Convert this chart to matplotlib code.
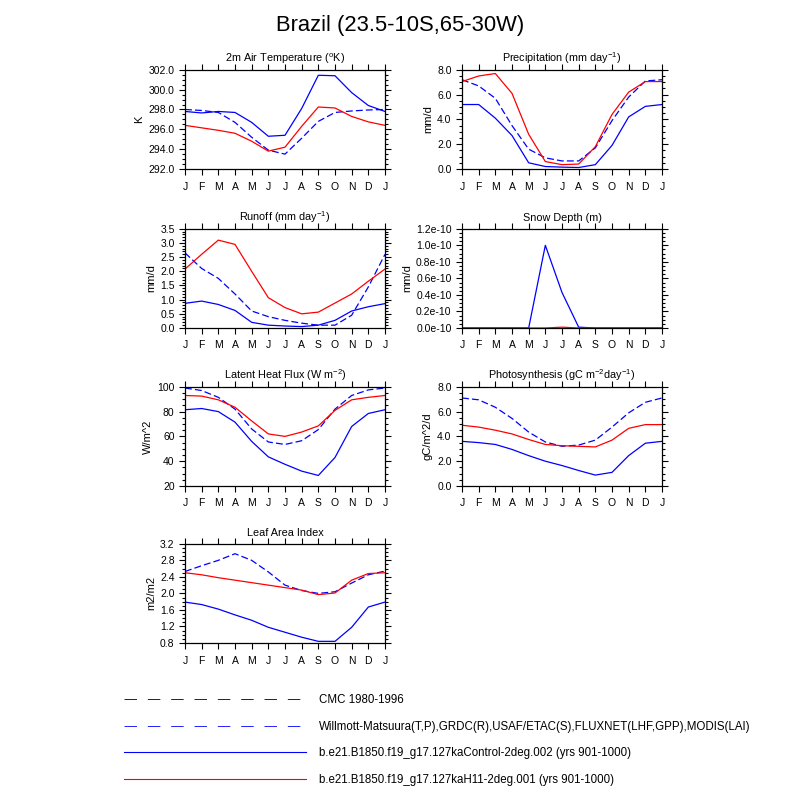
import numpy as np
import matplotlib
matplotlib.use("Agg")
import matplotlib.pyplot as plt
from matplotlib.lines import Line2D
from matplotlib.ticker import MultipleLocator, FixedLocator, FixedFormatter

plt.rcParams['font.family'] = ['Liberation Sans', 'DejaVu Sans']
plt.rcParams['mathtext.default'] = 'regular'

months = ["J", "F", "M", "A", "M", "J", "J", "A", "S", "O", "N", "D", "J"]

# 2m air temperature (K)
tsa_obs = [298.0, 297.9, 297.7, 296.7, 295.2, 293.9, 293.5, 295.1, 296.8, 297.7, 297.85, 297.95, 298.0]
tsa_ctl = [297.8, 297.65, 297.8, 297.7, 296.7, 295.3, 295.4, 298.1, 301.45, 301.4, 299.7, 298.4, 297.8]
tsa_h11 = [296.4, 296.15, 295.9, 295.6, 294.8, 293.8, 294.2, 296.3, 298.25, 298.15, 297.3, 296.75, 296.4]

# precipitation (mm/d)
pre_obs = [7.2, 6.7, 5.7, 3.5, 1.6, 0.9, 0.65, 0.65, 1.7, 3.9, 5.8, 7.1, 7.2]
pre_ctl = [5.2, 5.2, 4.1, 2.7, 0.5, 0.2, 0.15, 0.12, 0.35, 1.9, 4.2, 5.05, 5.2]
pre_h11 = [7.05, 7.5, 7.7, 6.1, 2.8, 0.6, 0.35, 0.4, 1.8, 4.4, 6.2, 7.05, 7.05]

# runoff (mm/d)
ro_obs = [2.65, 2.1, 1.75, 1.2, 0.6, 0.4, 0.27, 0.17, 0.1, 0.1, 0.45, 1.45, 2.6]
ro_ctl = [0.87, 0.95, 0.83, 0.62, 0.2, 0.1, 0.07, 0.05, 0.1, 0.27, 0.6, 0.75, 0.86]
ro_h11 = [2.08, 2.6, 3.1, 2.95, 2.0, 1.07, 0.72, 0.5, 0.56, 0.88, 1.2, 1.65, 2.08]

# snow depth (m)
sd_ctl = [0, 0, 0, 0, 0, 1.0e-10, 0.43e-10, 0.01e-10, 0, 0, 0, 0, 0]
sd_h11 = [0, 0, 0, 0, 0, 0, 0.01e-10, 0, 0, 0, 0, 0, 0]

# latent heat flux (W/m^2)
lh_obs = [99, 97, 91.5, 82, 66, 55.5, 53.5, 56.5, 65.5, 82, 93, 97.5, 99]
lh_ctl = [81.5, 82.5, 80, 71.5, 56, 43.5, 37.5, 32, 28.5, 43, 68, 78.5, 81.5]
lh_h11 = [93, 92.5, 89.5, 83.5, 72.5, 62, 60, 63.5, 68.5, 81, 89.5, 91.5, 93]

# photosynthesis (gC/m^2/d)
gpp_obs = [7.1, 6.95, 6.35, 5.45, 4.35, 3.55, 3.2, 3.3, 3.7, 4.75, 5.9, 6.75, 7.1]
gpp_ctl = [3.6, 3.5, 3.35, 2.95, 2.45, 2.0, 1.65, 1.25, 0.88, 1.1, 2.45, 3.45, 3.6]
gpp_h11 = [4.9, 4.75, 4.5, 4.2, 3.75, 3.35, 3.25, 3.2, 3.15, 3.7, 4.65, 4.95, 4.95]

# leaf area index (m2/m2)
lai_obs = [2.53, 2.67, 2.8, 2.96, 2.8, 2.52, 2.2, 2.07, 2.0, 2.04, 2.25, 2.45, 2.54]
lai_ctl = [1.79, 1.73, 1.62, 1.48, 1.35, 1.18, 1.06, 0.94, 0.84, 0.84, 1.18, 1.67, 1.79]
lai_h11 = [2.5, 2.45, 2.38, 2.32, 2.26, 2.2, 2.14, 2.08, 1.97, 2.01, 2.32, 2.48, 2.5]

legend_labels = [
    "CMC 1980-1996",
    "Willmott-Matsuura(T,P),GRDC(R),USAF/ETAC(S),FLUXNET(LHF,GPP),MODIS(LAI)",
    "b.e21.B1850.f19_g17.127kaControl-2deg.002 (yrs 901-1000)",
    "b.e21.B1850.f19_g17.127kaH11-2deg.001 (yrs 901-1000)",
]

panels = [
    (r"2m Air Temperature ($^{o}$K)", "K", tsa_obs, tsa_ctl, tsa_h11, (292, 302), 2, 0.5, "%.1f"),
    (r"Precipitation (mm day$^{-1}$)", "mm/d", pre_obs, pre_ctl, pre_h11, (0, 8), 2, 0.5, "%.1f"),
    (r"Runoff (mm day$^{-1}$)", "mm/d", ro_obs, ro_ctl, ro_h11, (0, 3.5), 0.5, 0.1, "%.1f"),
    ("Snow Depth (m)", "mm/d", None, sd_ctl, sd_h11, (0, 1.2e-10), None, None, None),
    (r"Latent Heat Flux (W m$^{-2}$)", "W/m^2", lh_obs, lh_ctl, lh_h11, (20, 100), 20, 5, "%d"),
    (r"Photosynthesis (gC m$^{-2}$day$^{-1}$)", "gC/m^2/d", gpp_obs, gpp_ctl, gpp_h11, (0, 8), 2, 0.5, "%.1f"),
    ("Leaf Area Index", "m2/m2", lai_obs, lai_ctl, lai_h11, (0.8, 3.2), 0.4, 0.1, "%.1f"),
]

lefts = [0.23125, 0.5775]
bottoms = [0.78875, 0.59, 0.3925, 0.19625]
w, h = 0.25, 0.124
dash = (0, (5.5, 2.5))

fig = plt.figure(figsize=(8, 8), dpi=100)
fig.text(0.5, 0.968, "Brazil (23.5-10S,65-30W)", ha="center", va="center", fontsize=15.8)

x = np.arange(13)
for i, (title, ylab, obs, ctl, h11, ylim, major, minor, fmt) in enumerate(panels):
    ax = fig.add_axes([lefts[i % 2], bottoms[i // 2], w, h])
    if obs is not None:
        ax.plot(x, obs, color="blue", lw=0.9, linestyle=dash)
    ax.plot(x, ctl, color="blue", lw=0.9)
    ax.plot(x, h11, color="red", lw=0.9)
    ax.set_xlim(0, 12)
    ax.set_ylim(*ylim)
    ax.set_xticks(x)
    ax.set_xticklabels(months)
    if major is not None:
        ax.yaxis.set_major_locator(MultipleLocator(major))
        ax.yaxis.set_minor_locator(MultipleLocator(minor))
        ax.yaxis.set_major_formatter(plt.FormatStrFormatter(fmt))
    else:
        vals = np.arange(0, 7) * 0.2e-10
        ax.yaxis.set_major_locator(FixedLocator(vals))
        ax.yaxis.set_major_formatter(FixedFormatter(["%.1fe-10" % (v * 1e10) for v in vals]))
        ax.yaxis.set_minor_locator(MultipleLocator(0.05e-10))
    ax.set_title(title, fontsize=7.8, pad=5.5)
    ax.set_ylabel(ylab, fontsize=8, labelpad=3)
    ax.tick_params(axis="both", which="both", direction="out", top=True, right=True,
                   labelsize=7.5, width=0.8)
    ax.tick_params(axis="both", which="major", length=4)
    ax.tick_params(axis="y", which="minor", length=2)
    ax.tick_params(axis="x", which="major", pad=5)
    for s in ax.spines.values():
        s.set_linewidth(0.9)

handles = [
    Line2D([], [], color="black", lw=0.6, linestyle=(0, (15, 13))),
    Line2D([], [], color="blue", lw=0.6, linestyle=(0, (15, 13))),
    Line2D([], [], color="blue", lw=0.8),
    Line2D([], [], color="red", lw=0.8),
]
fig.legend(handles, legend_labels, loc="upper left", bbox_to_anchor=(0.155, 0.132),
           frameon=False, fontsize=8.3, handlelength=15.8, handletextpad=1.1,
           labelspacing=1.25, borderpad=0, borderaxespad=0)

fig.savefig("out.png", dpi=100)
